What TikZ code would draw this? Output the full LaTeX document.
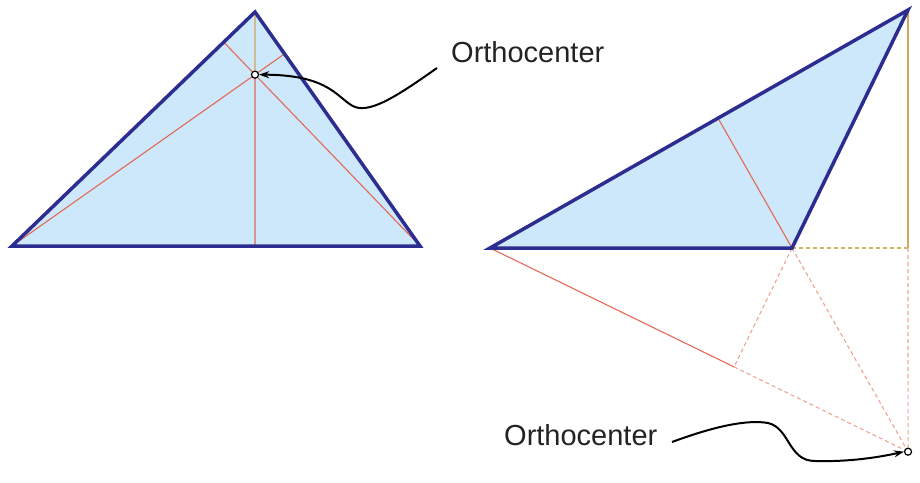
\documentclass[tikz,border=0pt]{standalone}
\usepackage{fontspec}
\setmainfont{Liberation Sans}
\usetikzlibrary{calc,arrows.meta}
\definecolor{edge}{RGB}{45,45,145}
\definecolor{fillb}{RGB}{204,232,250}
\definecolor{alt}{RGB}{228,105,85}
\definecolor{altb}{RGB}{212,165,95}
\definecolor{dashc}{RGB}{236,165,145}
\definecolor{dashy}{RGB}{200,185,95}
\definecolor{txt}{RGB}{35,35,35}
\begin{document}
\begin{tikzpicture}[x=1pt,y=-1pt,
  tri/.style={draw=edge,line width=3.5pt,line join=miter},
  altline/.style={draw=alt,line width=1.1pt},
  altvert/.style={draw=altb,line width=1.1pt},
  extline/.style={draw=dashc,line width=1.1pt,dash pattern=on 4pt off 3pt},
  extyel/.style={draw=dashy,line width=1.1pt,dash pattern=on 4pt off 3pt},
  ortho/.style={circle,draw=black,fill=white,inner sep=0pt,minimum size=7pt,line width=1.2pt},
  lbl/.style={anchor=base west,inner sep=0pt,text=txt,font=\fontsize{29}{34}\selectfont},
  pointer/.style={draw=black,line width=2pt,-{Stealth[length=10pt,width=7pt]}}]
\useasboundingbox (0,0) rectangle (920,482);
% ---------- left triangle ----------
\coordinate (A) at (12,246);
\coordinate (B) at (255,12);
\coordinate (C) at (420,246);
\fill[fillb] (A)--(B)--(C)--cycle;
\coordinate (FA) at ($(B)!(A)!(C)$);
\coordinate (FB) at ($(A)!(B)!(C)$);
\coordinate (FC) at ($(A)!(C)!(B)$);
\coordinate (H1) at (intersection of A--FA and B--FB);
\draw[altline] (A)--(FA);
\draw[altline] (C)--(FC);
\draw[altvert] (B)--(H1);
\draw[altline] (H1)--(FB);
\draw[tri] (A)--(B)--(C)--cycle;
\node[ortho] (h1) at (H1) {};
% ---------- right triangle ----------
\coordinate (P) at (490,248);
\coordinate (Q) at (908,10);
\coordinate (R) at (792,248);
\fill[fillb] (P)--(Q)--(R)--cycle;
\coordinate (FP) at ($(Q)!(P)!(R)$);
\coordinate (FQ) at ($(P)!(Q)!(R)$);
\coordinate (FR) at ($(P)!(R)!(Q)$);
\coordinate (H2) at (intersection of P--FP and Q--FQ);
\draw[altline] (P)--(FP);
\draw[altline] (R)--(FR);
\draw[altvert] (Q)--(FQ);
\draw[extyel] (R)--(FQ);
\draw[extline] (FQ)--(H2);
\draw[extline] (FP)--(H2);
\draw[extline] (R)--(H2);
\draw[extline] (R)--(FP);
\draw[tri] (P)--(Q)--(R)--cycle;
\node[ortho] (h2) at (H2) {};
% ---------- labels ----------
\node[lbl] (l1) at (451,62) {Orthocenter};
\node[lbl] (l2) at (504,445) {Orthocenter};
\coordinate (s1) at (437,68);
\coordinate (s2) at (672,442);
\draw[pointer] (s1) .. controls (400,94) and (372,113) .. (355,107)
  .. controls (338,100) and (332,75) .. (h1.east);
\draw[pointer] (s2) .. controls (710,428) and (745,419) .. (768,423)
  .. controls (790,428) and (788,461) .. (815,461)
  .. controls (850,462) and (880,457) .. (h2.west);
\end{tikzpicture}
\end{document}
